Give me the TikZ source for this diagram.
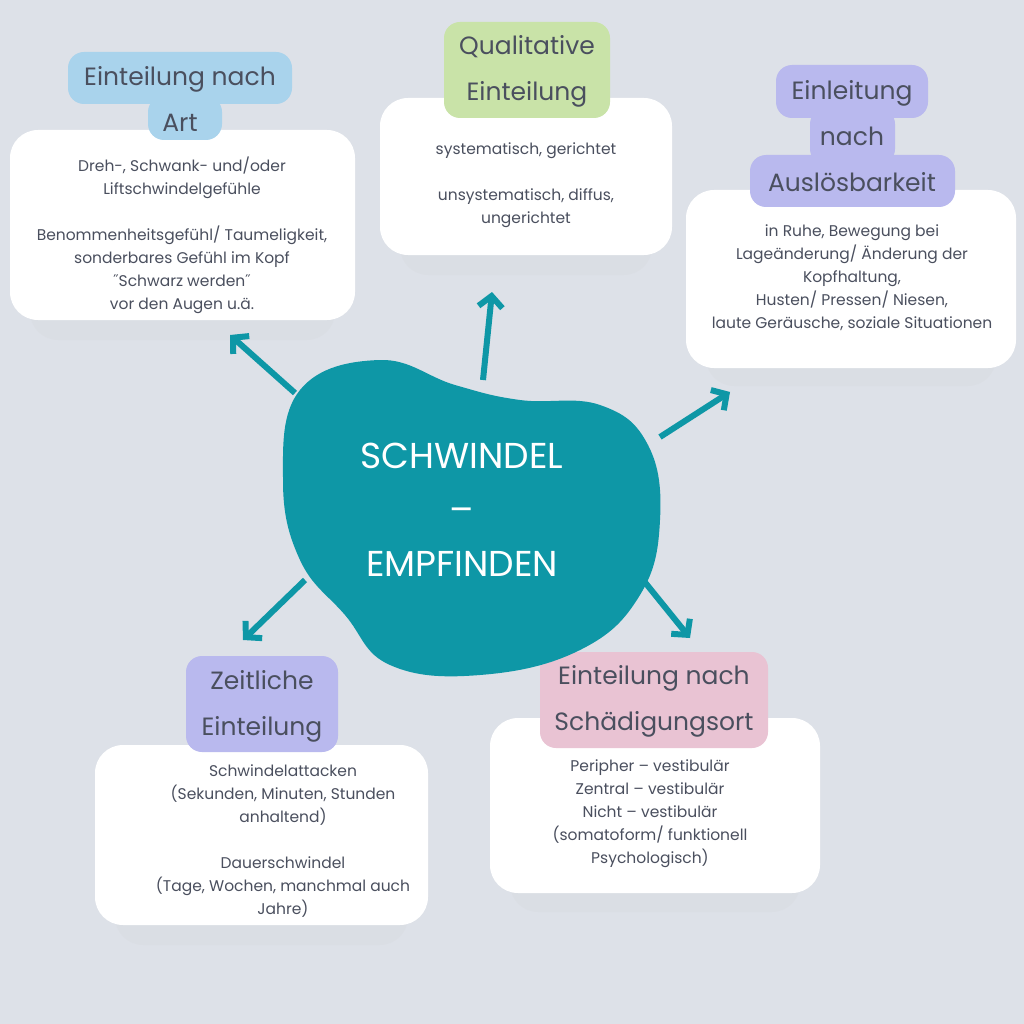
\documentclass[tikz,border=0pt]{standalone}
\usepackage{fontspec}
\setmainfont{Poppins}
\usetikzlibrary{positioning,calc,arrows.meta}
\definecolor{bgc}{HTML}{DDE1E8}
\definecolor{teal}{HTML}{0E97A6}
\definecolor{txt}{HTML}{4A4F5E}
\definecolor{lblue}{HTML}{A9D3EC}
\definecolor{lgreen}{HTML}{C9E3A8}
\definecolor{lviolet}{HTML}{B9B9EE}
\definecolor{lpink}{HTML}{E9C3D3}

\begin{document}
\begin{tikzpicture}[x=1pt,y=-1pt,
  card/.style={fill=white,rounded corners=28pt},
  shade box/.style={fill=black!20,opacity=0.12,rounded corners=28pt},
  tag/.style={rounded corners=16pt},
  body text/.style={text=txt,font=\fontsize{15.5}{23}\selectfont,align=center},
  tag text/.style={text=txt,font=\fontsize{25}{46}\selectfont,align=center},
  pointer/.style={teal,line width=6pt,-{Straight Barb[length=11pt,width=24pt,line width=6pt]}}]

  \fill[bgc] (0,0) rectangle (1024,1024);

  % shadows
  \fill[shade box] (30,145) rectangle (335,340);
  \fill[shade box] (400,112) rectangle (652,275);
  \fill[shade box] (706,205) rectangle (996,386);
  \fill[shade box] (115,760) rectangle (408,945);
  \fill[shade box] (510,733) rectangle (800,912);

  % cards
  \fill[card] (10,130) rectangle (355,320);
  \fill[card] (380,98) rectangle (672,255);
  \fill[card] (686,190) rectangle (1016,368);
  \fill[card] (95,745) rectangle (428,925);
  \fill[card] (490,718) rectangle (820,893);

  % tags
  \fill[tag,lblue] (68,52) rectangle (292,104);
  \fill[tag,lblue] (148,96) rectangle (222,140);
  \fill[tag,lgreen] (444,22) rectangle (610,118);
  \fill[tag,lviolet] (776,65) rectangle (928,118);
  \fill[tag,lviolet] (810,108) rectangle (895,165);
  \fill[tag,lviolet] (750,155) rectangle (955,207);
  \fill[tag,lviolet] (186,656) rectangle (338,752);
  \fill[tag,lpink] (540,652) rectangle (768,748);

  \node[tag text] (art) at (180,99) {Einteilung nach\\Art};
  \node[tag text] (qual) at (527,71) {Qualitative\\Einteilung};
  \node[tag text] (ausl) at (852,136) {Einleitung\\nach\\Auslösbarkeit};
  \node[tag text] (zeit) at (262,706) {Zeitliche\\Einteilung};
  \node[tag text] (ort) at (654,701) {Einteilung nach\\Schädigungsort};

  \node[body text] (artbody) at (182,235) {Dreh-, Schwank- und/oder\\Liftschwindelgefühle\\[23pt]Benommenheitsgefühl/ Taumeligkeit,\\sonderbares Gefühl im Kopf\\˝Schwarz werden˝\\vor den Augen u.ä.};
  \node[body text] (qualbody) at (526,185) {systematisch, gerichtet\\[23pt]unsystematisch, diffus,\\ungerichtet};
  \node[body text] (auslbody) at (852,278) {in Ruhe, Bewegung bei\\Lageänderung/ Änderung der\\Kopfhaltung,\\Husten/ Pressen/ Niesen,\\laute Geräusche, soziale Situationen};
  \node[body text] (zeitbody) at (283,841) {Schwindelattacken\\(Sekunden, Minuten, Stunden\\anhaltend)\\[23pt]Dauerschwindel\\(Tage, Wochen, manchmal auch\\Jahre)};
  \node[body text] (ortbody) at (650,814) {Peripher – vestibulär\\Zentral – vestibulär\\Nicht – vestibulär\\(somatoform/ funktionell\\Psychologisch)};

  % blob
  \fill[teal] plot[smooth cycle,tension=0.7] coordinates {(300,390) (380,360) (455,385) (520,400) (600,405) (648,445) (660,520) (640,595) (580,650) (480,675) (390,665) (345,615) (300,560) (283,480)};
  \node[text=white,font=\fontsize{36}{54}\selectfont,align=center] (center) at (462,510) {SCHWINDEL\\–\\EMPFINDEN};

  \coordinate (a1) at (295,393); \coordinate (a1e) at (230,335);
  \coordinate (a2) at (483,380); \coordinate (a2e) at (492,292);
  \coordinate (a3) at (660,437); \coordinate (a3e) at (730,392);
  \coordinate (a4) at (305,580); \coordinate (a4e) at (243,640);
  \coordinate (a5) at (635,570); \coordinate (a5e) at (690,638);
  \foreach \s/\e in {a1/a1e,a2/a2e,a3/a3e,a4/a4e,a5/a5e}
    \draw[pointer] (\s) -- (\e);
\end{tikzpicture}
\end{document}
